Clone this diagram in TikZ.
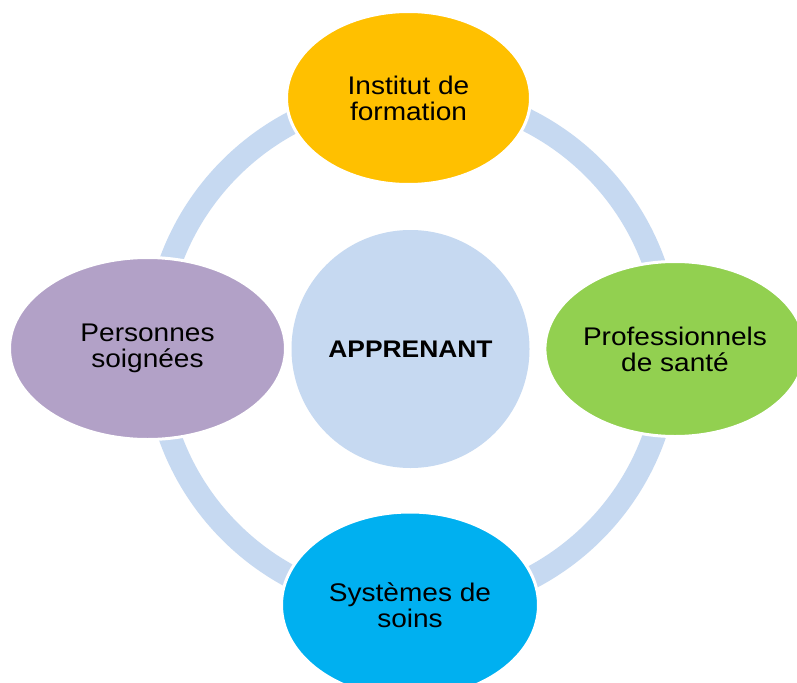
\documentclass[tikz,border=0pt]{standalone}
\usepackage{fontspec}
\setmainfont{Liberation Sans}[FakeStretch=1.1]
\usetikzlibrary{shapes.geometric}
\definecolor{ringblue}{HTML}{C6D9F1}
\definecolor{cyellow}{HTML}{FFC000}
\definecolor{cgreen}{HTML}{92D050}
\definecolor{ccyan}{HTML}{00B0F0}
\definecolor{cpurple}{HTML}{B2A1C7}
\begin{document}
\begin{tikzpicture}[x=1pt,y=-1pt,
  sat/.style={ellipse, draw=white, line width=3pt, inner sep=0pt, align=center,
    font=\fontsize{25.5}{26}\selectfont, text=black},
  hub/.style={circle, fill=ringblue, inner sep=0pt, minimum size=238pt,
    font=\bfseries\fontsize{24}{26}\selectfont, text=black}]
\useasboundingbox (0,0) rectangle (797,682);
\fill[white] (0,0) rectangle (797,682);
\coordinate (rc) at (412,350);
\draw[ringblue, line width=23pt] (rc) circle[radius=257];
\node[hub] (center) at (410.5,349) {APPRENANT};
\node[sat, fill=cyellow, minimum width=244pt, minimum height=173pt] (top) at (408.5,98) {Institut de\\formation};
\node[sat, fill=cgreen, minimum width=258pt, minimum height=175pt] (right) at (675,349) {Professionnels\\de sant\'e};
\node[sat, fill=ccyan, minimum width=257pt, minimum height=186pt] (bottom) at (410,605) {Syst\`emes de\\soins};
\node[sat, fill=cpurple, minimum width=276pt, minimum height=182pt] (left) at (147.5,348.5) {Personnes\\soign\'ees};
\end{tikzpicture}
\end{document}
